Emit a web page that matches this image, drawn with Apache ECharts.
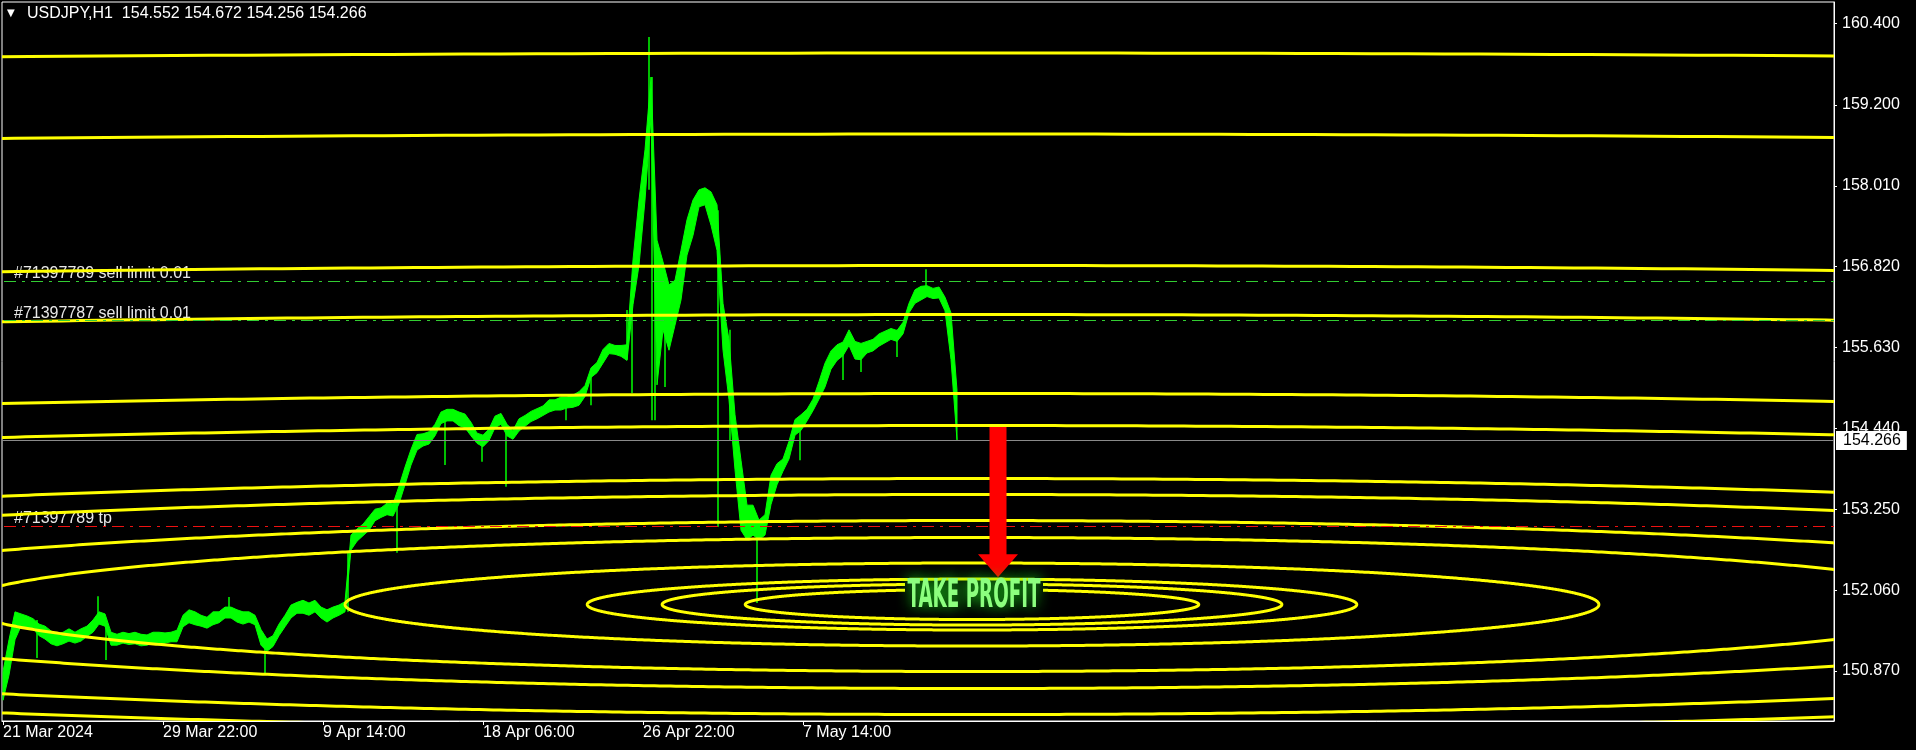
<!DOCTYPE html>
<html>
<head>
<meta charset="utf-8">
<script src="https://cdn.jsdelivr.net/npm/echarts@6.0.0/dist/echarts.min.js"></script>
<style>
html,body{margin:0;padding:0;background:#000;}
#c{width:1916px;height:750px;}
</style>
</head>
<body>
<div id="c"></div>
<script>
// ---------------- DATA ----------------
const SYMBOL = 'USDJPY,H1';
const OHLC = ['154.552', '154.672', '154.256', '154.266'];
const TIME_LABELS = ['21 Mar 2024', '29 Mar 22:00', '9 Apr 14:00', '18 Apr 06:00', '26 Apr 22:00', '7 May 14:00'];
const TIME_LABEL_BARS = [0, 160, 320, 480, 640, 800];
const PRICE_TICKS = [150.87, 152.06, 153.25, 154.44, 155.63, 156.82, 158.01, 159.2, 160.4];
const BAR_MIN = -1, BAR_MAX = 1831;
const PRICE_MIN = 150.134, PRICE_MAX = 160.714;

// H1 price trace sampled every SAMPLE_STEP bars (upper / lower edge of the trace)
const SAMPLE_STEP = 6;
const HIGHS = [
150.86,151.33,151.74,151.71,151.68,151.64,151.56,151.53,151.46,151.41,
151.44,151.49,151.44,151.49,151.53,151.62,151.74,151.71,151.44,151.41,
151.44,151.42,151.44,151.41,151.40,151.44,151.44,151.43,151.44,151.47,
151.69,151.77,151.74,151.69,151.66,151.74,151.74,151.81,151.81,151.77,
151.74,151.74,151.69,151.48,151.34,151.39,151.56,151.69,151.84,151.88,
151.91,151.87,151.91,151.81,151.77,151.81,151.84,151.89,152.87,152.96,
153.03,153.14,153.25,153.27,153.34,153.33,153.59,153.87,154.13,154.35,
154.36,154.39,154.50,154.68,154.72,154.72,154.68,154.65,154.53,154.37,
154.34,154.43,154.62,154.66,154.50,154.41,154.58,154.63,154.69,154.73,
154.77,154.86,154.86,154.90,154.90,154.93,154.98,155.07,155.33,155.41,
155.60,155.69,155.66,155.66,155.67,156.92,157.80,158.54,159.61,157.21,
156.89,156.55,156.62,157.06,157.51,157.80,157.95,157.98,157.92,157.73,
156.28,155.74,154.64,153.97,153.31,153.31,153.09,153.17,153.75,153.92,
153.99,154.25,154.57,154.64,154.72,154.87,155.13,155.40,155.58,155.67,
155.71,155.89,155.72,155.69,155.72,155.75,155.83,155.87,155.91,155.88,
156.00,156.28,156.48,156.53,156.54,156.50,156.52,156.37,156.14,155.00
];
const LOWS = [
150.44,150.81,151.33,151.53,151.50,151.49,151.39,151.34,151.27,151.24,
151.27,151.31,151.28,151.31,151.38,151.44,151.56,151.53,151.25,151.25,
151.28,151.26,151.27,151.24,151.25,151.28,151.25,151.28,151.30,151.30,
151.52,151.58,151.55,151.53,151.50,151.55,151.58,151.65,151.65,151.59,
151.56,151.59,151.55,151.25,151.16,151.23,151.39,151.52,151.65,151.72,
151.72,151.69,151.74,151.65,151.59,151.65,151.69,151.74,152.65,152.78,
152.86,152.94,153.08,153.13,153.17,153.15,153.33,153.61,153.90,154.12,
154.18,154.21,154.33,154.51,154.55,154.55,154.48,154.45,154.33,154.22,
154.17,154.26,154.45,154.50,154.33,154.28,154.40,154.47,154.54,154.58,
154.63,154.68,154.71,154.71,154.74,154.75,154.78,154.91,155.19,155.26,
155.40,155.54,155.53,155.50,155.44,156.26,156.84,157.80,159.02,155.08,
155.89,155.59,155.96,156.33,156.99,157.28,157.70,157.73,157.43,157.06,
155.59,154.86,153.83,152.94,152.80,152.87,152.80,152.87,153.32,153.61,
153.81,153.99,154.34,154.41,154.55,154.70,154.87,155.05,155.31,155.44,
155.51,155.66,155.46,155.45,155.55,155.58,155.65,155.70,155.75,155.72,
155.83,156.14,156.28,156.33,156.38,156.35,156.36,156.17,155.45,154.27
];
// single-bar wicks
const SPIKE_BARS  = [34, 95, 103, 226, 262, 345, 394, 442, 479, 503, 563, 588, 624, 629, 646, 649, 652, 662, 715, 727, 754, 797, 840, 858, 894, 923];
const SPIKE_HIGHS = [151.62,151.97,151.62,151.96,151.33,152.61,153.39,154.67,154.27,154.49,154.86,155.30,156.18,156.62,160.20,159.61,157.26,156.48,157.65,155.89,153.09,154.52,155.67,155.67,155.89,156.78];
const SPIKE_LOWS  = [151.06,151.62,151.03,151.69,150.84,151.74,152.61,153.90,153.95,153.58,154.56,154.78,155.45,154.96,157.95,154.56,154.56,155.05,152.99,154.27,151.87,153.97,155.15,155.27,155.49,156.40];

const LAST_PRICE = 154.266;
const ORDER_TEXTS  = ['#71397789 sell limit 0.01', '#71397787 sell limit 0.01', '#71397789 tp'];
const ORDER_PRICES = [156.61, 156.03, 153.01];
const ORDER_KINDS  = ['limit', 'limit', 'tp'];

// concentric target ellipses (vertical semi-axis in yen; horizontal = ASPECT * that, in bars)
const ELLIPSE_CENTER_BAR = 969;
const ELLIPSE_CENTER_PRICE = 151.848;
const ELLIPSE_ASPECT = 1026;
const ELLIPSE_RADII = [8.115, 6.923, 4.988, 4.267, 3.105, 2.634, 1.854, 1.619, 1.236, 0.986, 0.611, 0.375, 0.302, 0.221];

const ARROW_BAR = 995, ARROW_FROM = 154.46, ARROW_TO = 152.25;
const TP_TEXT = 'TAKE PROFIT', TP_TEXT_BAR = 971, TP_TEXT_PRICE = 151.96;

// ---------------- STYLE ----------------
const FONT = '"Liberation Sans", Arial, sans-serif';
const TXT = '#ffffff';
const TP_FONT = 'bold 39px "Liberation Sans Narrow", "DejaVu Sans Condensed", sans-serif';
const mctx = document.createElement('canvas').getContext('2d');
mctx.font = TP_FONT;
const TP_SCALE_X = 133 / mctx.measureText(TP_TEXT).width;

const chart = echarts.init(document.getElementById('c'), null, {renderer: 'canvas', width: 1916, height: 750});

const option = {
  backgroundColor: '#000',
  animation: false,
  title: [
    {text: '▼', left: 7, top: 8, padding: 0, textStyle: {color: TXT, fontFamily: 'DejaVu Sans', fontSize: 10, fontWeight: 'normal'}},
    {text: SYMBOL + '  ' + OHLC.join(' '), left: 27, top: 6, padding: 0,
     textStyle: {color: TXT, fontFamily: FONT, fontSize: 16, fontWeight: 'normal'}}
  ],
  grid: {left: 2, right: 82, top: 2, bottom: 29, show: true, borderColor: '#fff', borderWidth: 1, backgroundColor: '#000'},
  xAxis: {
    type: 'value', min: BAR_MIN, max: BAR_MAX,
    splitLine: {show: false},
    axisLine: {show: true, onZero: false, lineStyle: {color: '#fff', width: 1}},
    axisTick: {show: true, length: 4, customValues: TIME_LABEL_BARS, lineStyle: {color: '#fff'}},
    axisLabel: {customValues: TIME_LABEL_BARS, formatter: v => TIME_LABELS[TIME_LABEL_BARS.indexOf(v)],
      color: TXT, fontFamily: FONT, fontSize: 16, align: 'left', margin: 4}
  },
  yAxis: {
    type: 'value', position: 'right', min: PRICE_MIN, max: PRICE_MAX,
    splitLine: {show: false},
    axisLine: {show: true, onZero: false, lineStyle: {color: '#fff', width: 1}},
    axisTick: {show: true, length: 3, customValues: PRICE_TICKS, lineStyle: {color: '#fff'}},
    axisLabel: {customValues: PRICE_TICKS, formatter: v => v.toFixed(3), color: TXT, fontFamily: FONT, fontSize: 16, margin: 8}
  },
  series: [
    { // price trace + wicks
      type: 'custom', z: 2, clip: true, silent: true, data: [[0, 155]],
      renderItem: (params, api) => {
        const top = [], bot = [];
        for (let i = 0; i < HIGHS.length; i++) {
          top.push(api.coord([i * SAMPLE_STEP, HIGHS[i]]));
          bot.push(api.coord([i * SAMPLE_STEP, LOWS[i]]));
        }
        const children = [{type: 'polygon', shape: {points: top.concat(bot.reverse())},
          style: {fill: '#00ff00', stroke: '#00ff00', lineWidth: 1}}];
        for (let j = 0; j < SPIKE_BARS.length; j++) {
          const a = api.coord([SPIKE_BARS[j], SPIKE_HIGHS[j]]);
          const b = api.coord([SPIKE_BARS[j], SPIKE_LOWS[j]]);
          children.push({type: 'line', shape: {x1: a[0], y1: a[1], x2: b[0], y2: b[1]},
            style: {stroke: '#00ff00', lineWidth: 1.5}});
        }
        return {type: 'group', children};
      }
    },
    { // order labels
      type: 'custom', z: 3, clip: false, silent: true,
      data: ORDER_PRICES.map((p, i) => [BAR_MIN, p, i]),
      encode: {x: 0, y: 1},
      renderItem: (params, api) => {
        const pt = api.coord([api.value(0), api.value(1)]);
        return {type: 'text', x: pt[0] + 12, y: pt[1] + 1,
          style: {text: ORDER_TEXTS[api.value(2)], fill: '#e8e8e8', font: '16px ' + FONT,
            textAlign: 'left', textVerticalAlign: 'bottom', verticalAlign: 'bottom'}};
      }
    },
    { // ellipses
      type: 'custom', z: 4, clip: true, silent: true,
      data: ELLIPSE_RADII.map(r => [ELLIPSE_CENTER_BAR, ELLIPSE_CENTER_PRICE, r]),
      encode: {x: 0, y: 1},
      renderItem: (params, api) => {
        const cx = api.value(0), cy = api.value(1), r = api.value(2);
        const pts = [];
        const N = 1440;
        for (let i = 0; i < N; i++) {
          const t = i / N * 2 * Math.PI;
          pts.push(api.coord([cx + ELLIPSE_ASPECT * r * Math.cos(t), cy + r * Math.sin(t)]));
        }
        return {type: 'polygon', shape: {points: pts}, style: {fill: 'none', stroke: '#ffff00', lineWidth: 3}};
      }
    },
    { // order levels + last price
      type: 'custom', z: 5, clip: false, silent: true,
      data: ORDER_PRICES.map((p, i) => [BAR_MIN, p, i]).concat([[BAR_MIN, LAST_PRICE, -1]]),
      encode: {x: 0, y: 1},
      renderItem: (params, api) => {
        const idx = api.value(2);
        const a = api.coord([BAR_MIN, api.value(1)]);
        const b = api.coord([BAR_MAX, api.value(1)]);
        const y = Math.round(a[1]) + 0.5;
        if (idx < 0) {
          return {type: 'group', children: [
            {type: 'line', shape: {x1: a[0], y1: y, x2: b[0], y2: y}, style: {stroke: '#8a8a8a', lineWidth: 1}},
            {type: 'text', x: b[0] + 2, y: y,
              style: {text: LAST_PRICE.toFixed(3), fill: '#000', backgroundColor: '#fff', padding: [2, 6, 1, 7],
                font: '16px ' + FONT, textAlign: 'left', textVerticalAlign: 'middle', verticalAlign: 'middle'}}
          ]};
        }
        const col = ORDER_KINDS[idx] === 'tp' ? '#ee1111' : '#32cd32';
        return {type: 'line', shape: {x1: a[0] + 2, y1: y, x2: b[0], y2: y},
          style: {stroke: col, lineWidth: 1, lineDash: [12, 6, 3, 6]}};
      }
    },
    { // arrow + take profit label
      type: 'custom', z: 6, clip: false, silent: true,
      data: [[ARROW_BAR, ARROW_FROM, ARROW_TO]],
      encode: {x: 0, y: 1},
      renderItem: (params, api) => {
        const s = api.coord([api.value(0), api.value(1)]);
        const e = api.coord([api.value(0), api.value(2)]);
        const hw = 8.5, headW = 20, headL = 23;
        const tc = api.coord([TP_TEXT_BAR, TP_TEXT_PRICE]);
        return {type: 'group', children: [
          {type: 'polygon', shape: {points: [
            [s[0] - hw, s[1]], [s[0] + hw, s[1]], [s[0] + hw, e[1] - headL], [s[0] + headW, e[1] - headL],
            [e[0], e[1]], [s[0] - headW, e[1] - headL], [s[0] - hw, e[1] - headL]]},
            style: {fill: '#ff0000'}},
          {type: 'rect', shape: {x: tc[0] - 69, y: tc[1] - 15, width: 138, height: 33}, style: {fill: '#000'}},
          {type: 'text', x: tc[0], y: tc[1], scaleX: TP_SCALE_X,
            style: {text: TP_TEXT, font: TP_FONT, fill: '#8cff7e', textAlign: 'center',
              textVerticalAlign: 'middle', verticalAlign: 'middle',
              shadowBlur: 14, shadowColor: '#22ee22', textShadowBlur: 14, textShadowColor: '#22ee22'}}
        ]};
      }
    }
  ]
};
chart.setOption(option);
</script>
</body>
</html>
